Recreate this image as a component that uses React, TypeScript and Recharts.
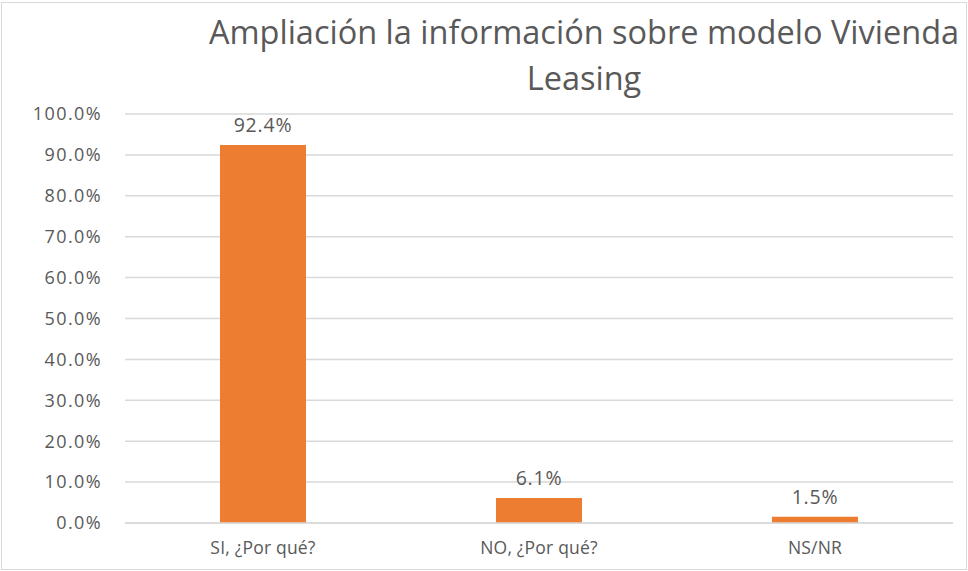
import { BarChart, Bar, XAxis, YAxis, CartesianGrid, LabelList } from "recharts";

const categories = ["SI, ¿Por qué?", "NO, ¿Por qué?", "NS/NR"];
const values = [92.4, 6.1, 1.5];
const yTicks = [0, 10, 20, 30, 40, 50, 60, 70, 80, 90, 100];
const titleLines = ["Ampliación la información sobre modelo Vivienda", "Leasing"];

const data = categories.map((name, i) => ({ name, value: values[i] }));

const FONT = "'Open Sans', sans-serif";
const TEXT = "#595959";
const GRID = "#D9D9D9";

const pct = (v: number) => `${Number(v).toFixed(1)}%`;

const App = () => {
  return (
    <div style={{ position: "absolute", left: 0, top: 0, width: 968, height: 571 }}>
      <div
        style={{
          position: "absolute",
          left: 1,
          top: 2,
          width: 964,
          height: 566,
          border: `1px solid ${GRID}`,
        }}
      />
      <BarChart
        width={968}
        height={571}
        data={data}
        margin={{ top: 114, right: 15, left: 0, bottom: 18 }}
        barSize={86}
        style={{ position: "absolute", left: 0, top: 0, fontFamily: FONT }}
      >
        <CartesianGrid vertical={false} stroke={GRID} strokeWidth={1.5} />
        <XAxis
          dataKey="name"
          height={30}
          axisLine={{ stroke: GRID, strokeWidth: 1.5 }}
          tickLine={false}
          tickSize={0}
          tickMargin={19}
          tick={{ fill: TEXT, fontSize: 17.5, letterSpacing: 0.2 }}
        />
        <YAxis
          width={125}
          domain={[0, 100]}
          ticks={yTicks}
          tickFormatter={pct}
          axisLine={false}
          tickLine={false}
          tickSize={0}
          tickMargin={23}
          interval={0}
          tick={{ fill: TEXT, fontSize: 18, letterSpacing: 1.4 }}
        />
        <Bar dataKey="value" fill="#ED7D31" isAnimationActive={false}>
          <LabelList
            dataKey="value"
            position="top"
            offset={13}
            formatter={pct}
            style={{ fill: TEXT, fontSize: 19.5, fontFamily: FONT, letterSpacing: 0.8 }}
          />
        </Bar>
      </BarChart>
      <svg
        width={968}
        height={110}
        style={{ position: "absolute", left: 0, top: 0, pointerEvents: "none" }}
      >
        {titleLines.map((line, i) => (
          <text
            key={line}
            x={584}
            y={44 + i * 46}
            textAnchor="middle"
            fill={TEXT}
            fontSize={32.5}
            fontFamily={FONT}
          >
            {line}
          </text>
        ))}
      </svg>
    </div>
  );
};

export default App;
